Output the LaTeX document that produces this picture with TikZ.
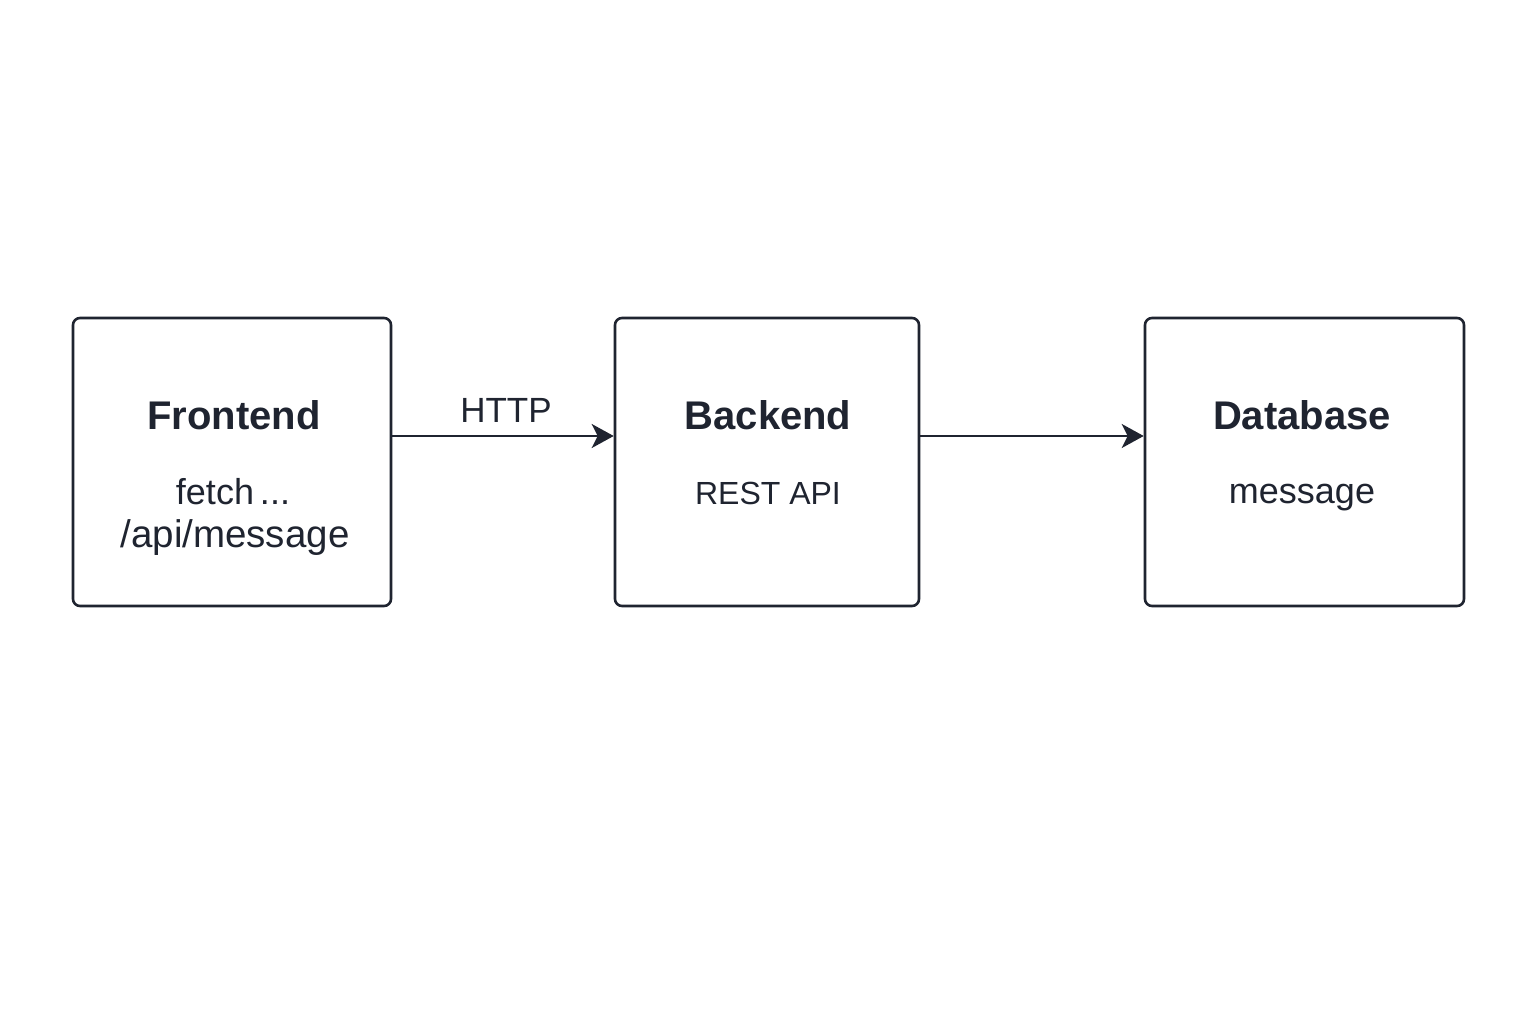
\documentclass[tikz,border=0pt]{standalone}
\usepackage{fontspec}
\setmainfont{Liberation Sans}
\usetikzlibrary{arrows.meta}
\definecolor{ink}{HTML}{1F2430}
\begin{document}
\begin{tikzpicture}[x=1pt,y=-1pt,
  box/.style={draw=ink, line width=2.6pt, rounded corners=7pt},
  ttl/.style={text=ink, font=\fontsize{40}{46}\selectfont\bfseries, inner sep=0pt},
  sub/.style={text=ink, font=\fontsize{36}{43}\selectfont, inner sep=0pt, align=center},
  lbl/.style={text=ink, font=\fontsize{35}{40}\selectfont, inner sep=0pt},
  conn/.style={draw=ink, line width=2.6pt, -{Stealth[length=22pt,width=24pt,inset=6pt]}}]
\useasboundingbox (0,0) rectangle (1536,1024);
\fill[white] (0,0) rectangle (1536,1024);
% boxes
\node[box, minimum width=318pt, minimum height=288pt] (fe) at (232,462) {};
\node[box, minimum width=304pt, minimum height=288pt] (be) at (767,462) {};
\node[box, minimum width=319pt, minimum height=288pt] (db) at (1304.5,462) {};
% texts
\node[ttl] (fet) at (234,415) {Frontend};
\node[sub, anchor=base] (fes1) at (233,504) {fetch\,...};
\node[sub, anchor=base, font=\fontsize{38.5}{43}\selectfont] (fes2) at (235,547) {/api/message};
\node[ttl] (bet) at (768,415) {Backend};
\node[sub, anchor=base, font=\fontsize{32}{40}\selectfont] (bes) at (768,504) {REST API};
\node[ttl] (dbt) at (1302,415) {Database};
\node[sub, anchor=base] (dbs) at (1302,503) {message};
% connectors
\coordinate (a1) at (fe.east |- 0,436);
\coordinate (a2) at (be.west |- 0,436);
\coordinate (b1) at (be.east |- 0,436);
\coordinate (b2) at (db.west |- 0,436);
\draw[conn] (a1) -- (a2) node[lbl, midway, above=12pt, xshift=3pt] (http) {HTTP};
\draw[conn] (b1) -- (b2);
\end{tikzpicture}
\end{document}
